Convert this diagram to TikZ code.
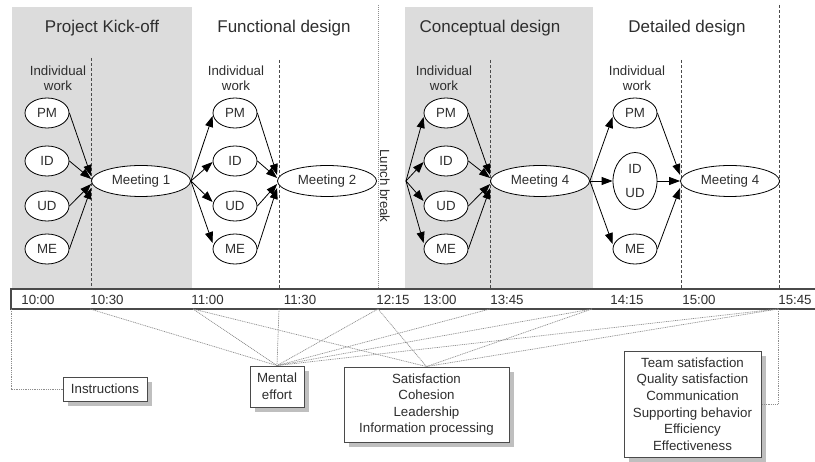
\documentclass[tikz,border=0pt]{standalone}
\usepackage{fontspec}
\setmainfont{Liberation Sans}
\usetikzlibrary{arrows.meta,shapes.geometric,shadows}
\definecolor{bandgray}{HTML}{DCDCDC}
\definecolor{ink}{HTML}{2E2E2E}
\definecolor{frame}{HTML}{4A4A4A}
\definecolor{guide}{HTML}{8E8E8E}
\newcommand\smallsize{\fontsize{13.3}{16.6}\selectfont}
\newcommand\titlesize{\fontsize{17}{20}\selectfont}

\tikzset{
  role/.style={ellipse, draw=black, line width=0.8pt, fill=white,
    minimum width=44pt, minimum height=30pt, inner sep=0pt,
    font=\smallsize, text=ink},
  meet/.style={role, minimum width=99pt, minimum height=31pt},
  pair/.style={role, minimum height=57pt, align=center,
    font=\fontsize{13.3}{24}\selectfont},
  flow/.style={draw=black, line width=0.8pt, -{Triangle[length=11pt,width=8pt]}},
  phase/.style={font=\titlesize, text=ink},
  note/.style={font=\fontsize{13.3}{15}\selectfont, text=ink, align=center},
  split/.style={draw=frame, line width=0.8pt, dash pattern=on 3pt off 2pt},
  pause/.style={draw=guide, line width=0.7pt, dash pattern=on 1pt off 1pt},
  tick/.style={font=\smallsize, text=ink},
  link/.style={draw=guide, line width=0.7pt, dash pattern=on 1pt off 0.8pt},
  measure/.style={draw=frame, line width=0.9pt, fill=white, align=center,
    font=\smallsize, text=ink, inner sep=0pt,
    drop shadow={shadow xshift=5pt, shadow yshift=-5pt, fill=black!25, opacity=1}},
}

\begin{document}
\begin{tikzpicture}[x=1pt, y=-1pt]
\useasboundingbox (0,0) rectangle (815,462);

% phase backgrounds
\fill[bandgray] (12,7) rectangle (192,289);
\fill[bandgray] (405,7) rectangle (593,289);

% phase titles
\node[phase] (p1) at (102,28) {Project Kick-off};
\node[phase] (p2) at (284,28) {Functional design};
\node[phase] (p3) at (490,28) {Conceptual design};
\node[phase] (p4) at (687,28) {Detailed design};

% separators
\draw[split] (91,58) -- (91,289);
\draw[split] (279,60) -- (279,289);
\draw[split] (490,60) -- (490,289);
\draw[split] (681,60) -- (681,289);
\draw[split] (779,5) -- (779,289);
\draw[pause] (378,5) -- (378,289);

\node[note] (w1) at (58,78) {Individual\\work};
\node[note] (w2) at (236,78) {Individual\\work};
\node[note] (w3) at (444,78) {Individual\\work};
\node[note] (w4) at (637,78) {Individual\\work};

% kick-off
\node[role] (a1) at (47,113) {PM};
\node[role] (b1) at (47,161) {ID};
\node[role] (c1) at (47,206) {UD};
\node[role] (d1) at (47,249) {ME};
\node[meet] (m1) at (141,181) {Meeting 1};
\draw[flow] (a1.east) -- ([yshift=5pt]m1.west);
\draw[flow] (b1.east) -- ([yshift=2pt]m1.west);
\draw[flow] (c1.east) -- ([yshift=-3pt]m1.west);
\draw[flow] (d1.east) -- ([yshift=-7pt]m1.west);

% functional design
\node[role] (a2) at (235,113) {PM};
\node[role] (b2) at (235,161) {ID};
\node[role] (c2) at (235,206) {UD};
\node[role] (d2) at (235,249) {ME};
\node[meet] (m2) at (327,181) {Meeting 2};
\draw[flow] (m1.east) -- ([yshift=-3pt]a2.west);
\draw[flow] (m1.east) -- ([yshift=-1pt]b2.west);
\draw[flow] (m1.east) -- ([yshift=4pt]c2.west);
\draw[flow] (m1.east) -- ([yshift=6pt]d2.west);
\draw[flow] (a2.east) -- ([yshift=6pt]m2.west);
\draw[flow] (b2.east) -- ([yshift=3pt]m2.west);
\draw[flow] (c2.east) -- ([yshift=-3pt]m2.west);
\draw[flow] (d2.east) -- ([yshift=-7pt]m2.west);

\node[note, rotate=-90] (lunch) at (385,186) {Lunch break};

% conceptual design
\coordinate (restart) at (406,181);
\node[role] (a3) at (446,113) {PM};
\node[role] (b3) at (446,161) {ID};
\node[role] (c3) at (446,206) {UD};
\node[role] (d3) at (446,249) {ME};
\node[meet] (m3) at (540,181) {Meeting 4};
\draw[flow] (restart) -- ([yshift=-4pt]a3.west);
\draw[flow] (restart) -- ([yshift=-1pt]b3.west);
\draw[flow] (restart) -- ([yshift=5pt]c3.west);
\draw[flow] (restart) -- ([yshift=6pt]d3.west);
\draw[flow] (a3.east) -- ([yshift=6pt]m3.west);
\draw[flow] (b3.east) -- ([yshift=3pt]m3.west);
\draw[flow] (c3.east) -- ([yshift=-3pt]m3.west);
\draw[flow] (d3.east) -- ([yshift=-7pt]m3.west);

% detailed design
\node[role] (a4) at (635,113) {PM};
\node[pair] (b4) at (635,181) {ID\\UD};
\node[role] (d4) at (635,249) {ME};
\node[meet] (m4) at (730,181) {Meeting 4};
\draw[flow] (m3.east) -- ([yshift=-4pt]a4.west);
\draw[flow] (m3.east) -- (b4.west);
\draw[flow] (m3.east) -- ([yshift=5pt]d4.west);
\draw[flow] (a4.east) -- ([yshift=6pt]m4.west);
\draw[flow] (b4.east) -- (m4.west);
\draw[flow] (d4.east) -- ([yshift=-7pt]m4.west);

% time line
\draw[draw=frame, line width=1.2pt, fill=white] (11,289) rectangle (820,309);
\node[tick] (h1) at (38,300) {10:00};
\node[tick] (h2) at (107,300) {10:30};
\node[tick] (h3) at (207.5,300) {11:00};
\node[tick] (h4) at (300,300) {11:30};
\node[tick] (h5) at (393,300) {12:15};
\node[tick] (h6) at (440,300) {13:00};
\node[tick] (h7) at (507,300) {13:45};
\node[tick] (h8) at (627,300) {14:15};
\node[tick] (h9) at (699,300) {15:00};
\node[tick] (h10) at (795,300) {15:45};

\coordinate (t1000) at (11,309);
\coordinate (t1030) at (90,309);
\coordinate (t1100) at (193,309);
\coordinate (t1130) at (279,309);
\coordinate (t1215) at (378,309);
\coordinate (t1345) at (490,309);
\coordinate (t1415) at (592,309);
\coordinate (t1545) at (778,309);

% measurements
\node[measure, minimum width=84pt, minimum height=24pt] (instr) at (105,389) {Instructions};
\node[measure, minimum width=54pt, minimum height=41pt] (mental) at (277,386.5) {Mental\\effort};
\node[measure, minimum width=165pt, minimum height=75pt] (sat) at (426.5,404.5)
  {Satisfaction\\Cohesion\\Leadership\\Information processing};
\node[measure, minimum width=137pt, minimum height=106pt] (team) at (692.5,404)
  {Team satisfaction\\Quality satisfaction\\Communication\\Supporting behavior\\Efficiency\\Effectiveness};

\draw[link] (t1000) |- (instr.west);
\draw[link] (t1545) |- (team.east);
\foreach \t in {t1030,t1100,t1130,t1215,t1345,t1415,t1545}
  \draw[link] (\t) -- (mental.north);
\foreach \t in {t1100,t1215,t1415,t1545}
  \draw[link] (\t) -- (sat.north);
\end{tikzpicture}
\end{document}
